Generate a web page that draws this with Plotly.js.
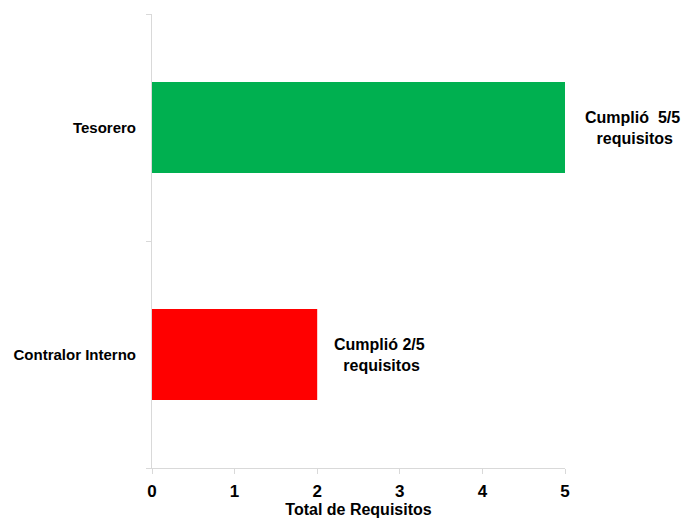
<!DOCTYPE html>
<html>
<head>
<meta charset="utf-8">
<script src="https://cdn.plot.ly/plotly-3.0.1.min.js"></script>
<style>html,body{margin:0;padding:0;background:#fff;}#chart{width:684px;height:520px;}</style>
</head>
<body>
<div id="chart"></div>
<script>
const categories = ["Contralor Interno", "Tesorero"];
const values = [2, 5];
const barColors = ["#ff0000", "#00b050"];
const labelTexts = ["Cumplió 2/5<br> requisitos", "Cumplió  5/5<br> requisitos"];
const labelX = [2.18, 5.22];
const xTicks = [0, 1, 2, 3, 4, 5];
const xMax = 5;

const font = "Liberation Sans, Arial, sans-serif";

const trace = {
  type: "bar",
  orientation: "h",
  y: categories,
  x: values,
  width: 0.4,
  marker: {color: barColors, line: {width: 0}},
  hoverinfo: "none"
};

const annotations = categories.map((c, i) => ({
  x: labelX[i] / xMax, y: c, xref: "paper", yref: "y",
  text: "<b>" + labelTexts[i] + "</b>",
  showarrow: false, xanchor: "left", yanchor: "middle", align: "center",
  font: {family: font, size: 16, color: "#000"}
}));

const layout = {
  width: 684, height: 520,
  margin: {l: 152, r: 119, t: 14, b: 52},
  paper_bgcolor: "#fff", plot_bgcolor: "#fff",
  showlegend: false,
  xaxis: {
    range: [0, xMax], tickvals: xTicks, ticktext: xTicks.map(v => "<b>" + v + "</b>"),
    showgrid: false, zeroline: false,
    showline: true, linecolor: "#d9d9d9", linewidth: 1,
    ticks: "outside", ticklen: 5, tickcolor: "#d9d9d9",
    ticklabelstandoff: 3,
    tickfont: {family: font, size: 17, color: "#000"},
    title: {text: "<b>Total de Requisitos</b>", font: {family: font, size: 16, color: "#000"}, standoff: 3},
    automargin: false
  },
  yaxis: {
    type: "category", categoryorder: "array", categoryarray: categories,
    range: [-0.5, 1.5],
    showgrid: false, zeroline: false,
    showline: true, linecolor: "#d9d9d9", linewidth: 1,
    ticks: "outside", ticklen: 5, tickcolor: "#d9d9d9", tickson: "boundaries",
    ticklabelstandoff: 12,
    ticktext: categories.map(c => "<b>" + c + "</b>"), tickvals: categories,
    tickfont: {family: font, size: 15, color: "#000"},
    automargin: false
  },
  annotations: annotations
};

Plotly.newPlot("chart", [trace], layout, {displayModeBar: false, staticPlot: true});
</script>
</body>
</html>
